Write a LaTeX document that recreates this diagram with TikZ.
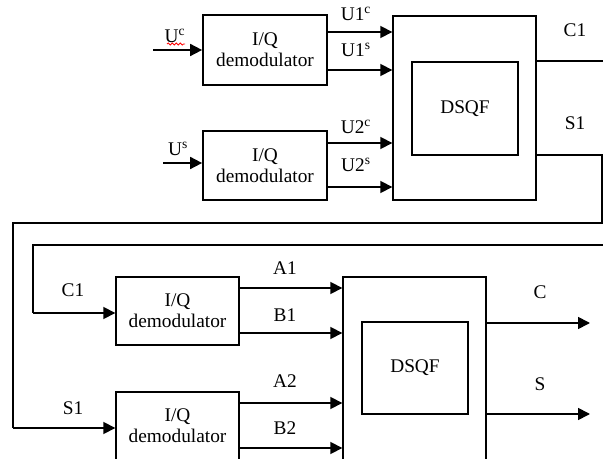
\documentclass[tikz,border=0pt]{standalone}
\usepackage{fontspec}
\setmainfont{Liberation Serif}
\usetikzlibrary{arrows.meta,decorations.pathmorphing}
\begin{document}
\begin{tikzpicture}[x=0.75pt,y=-0.75pt,
    line width=1.3pt,
    font=\fontsize{14.5}{16}\selectfont,
    blockbox/.style={draw, align=center, inner sep=0pt},
    arr/.style={-{Triangle[length=9pt,width=9pt]}},
    lbl/.style={inner sep=0pt}]
    \useasboundingbox (0,0) rectangle (603,459);
    \clip (0,0) rectangle (603,459);

    % First stage
    \node[blockbox, minimum width=93pt, minimum height=52pt] (demodA) at (265,50) {I/Q\\demodulator};
    \node[blockbox, minimum width=93pt, minimum height=52pt] (demodB) at (265,165.5) {I/Q\\demodulator};
    \node[blockbox, minimum width=107pt, minimum height=138pt] (dsqfA) at (464.5,108) {};
    \node[blockbox, minimum width=79.5pt, minimum height=70pt] (coreA) at (465,108.5) {DSQF};

    % Inputs of the first stage
    \coordinate (inUc) at (153,50);
    \coordinate (inUs) at (163,163);
    \draw[arr] (inUc) -- (inUc -| demodA.west);
    \draw[arr] (inUs) -- (inUs -| demodB.west);
    \node[lbl] (lUc) at (175,36) {U\textsuperscript{c}};
    \draw[red, line width=0.6pt, decorate, decoration={snake, amplitude=0.8pt, segment length=3pt}] (167,44) -- (185,44);
    \node[lbl] (lUs) at (178,149) {U\textsuperscript{s}};

    % Outputs of the demodulators
    \draw[arr] (demodA.east |- 0,32) -- (dsqfA.west |- 0,32);
    \draw[arr] (demodA.east |- 0,70) -- (dsqfA.west |- 0,70);
    \draw[arr] (demodB.east |- 0,143) -- (dsqfA.west |- 0,143);
    \draw[arr] (demodB.east |- 0,187) -- (dsqfA.west |- 0,187);
    \node[lbl] (lUac) at (356,14) {U1\textsuperscript{c}};
    \node[lbl] (lUas) at (356,50) {U1\textsuperscript{s}};
    \node[lbl] (lUbc) at (356,127) {U2\textsuperscript{c}};
    \node[lbl] (lUbs) at (356,165) {U2\textsuperscript{s}};

    % Second stage
    \node[blockbox, minimum width=92pt, minimum height=51pt] (demodC) at (177.5,311) {I/Q\\demodulator};
    \node[blockbox, minimum width=92pt, minimum height=51pt] (demodD) at (177.5,426) {I/Q\\demodulator};
    \node[blockbox, minimum width=107pt, minimum height=138pt] (dsqfB) at (414.5,369) {};
    \node[blockbox, minimum width=79.5pt, minimum height=69pt] (coreB) at (415,368) {DSQF};

    % Feedback lines
    \coordinate (outC1) at (603,61);
    \coordinate (edgeC1) at (603,245);
    \coordinate (turnC1) at (33,245);
    \coordinate (outS1) at (602,155);
    \coordinate (turnS1) at (13,223);
    \draw (dsqfA.east |- outC1) -- (outC1);
    \draw (dsqfA.east |- outS1) -- (outS1) -- (outS1 |- turnS1) -- (turnS1) -- (turnS1 |- 0,428);
    \draw[arr] (turnS1 |- 0,428) -- (demodD.west |- 0,428);
    \draw (edgeC1) -- (turnC1) -- (turnC1 |- 0,313);
    \draw[arr] (turnC1 |- 0,313) -- (demodC.west |- 0,313);
    \node[lbl] (lCa) at (575,30) {C1};
    \node[lbl] (lSa) at (575,123) {S1};
    \node[lbl] (lCb) at (73,290) {C1};
    \node[lbl] (lSb) at (73,408) {S1};

    % Outputs of the second stage
    \draw[arr] (demodC.east |- 0,288) -- (dsqfB.west |- 0,288);
    \draw[arr] (demodC.east |- 0,333) -- (dsqfB.west |- 0,333);
    \draw[arr] (demodD.east |- 0,403) -- (dsqfB.west |- 0,403);
    \draw[arr] (demodD.east |- 0,448) -- (dsqfB.west |- 0,448);
    \node[lbl] (lAa) at (285,268) {A1};
    \node[lbl] (lBa) at (285,315) {B1};
    \node[lbl] (lAb) at (285,381) {A2};
    \node[lbl] (lBb) at (285,428) {B2};
    \coordinate (endC) at (590,323);
    \coordinate (endS) at (590,414);
    \draw[arr] (dsqfB.east |- endC) -- (endC);
    \draw[arr] (dsqfB.east |- endS) -- (endS);
    \node[lbl] (lC) at (540,292) {C};
    \node[lbl] (lS) at (540,384) {S};
\end{tikzpicture}
\end{document}
